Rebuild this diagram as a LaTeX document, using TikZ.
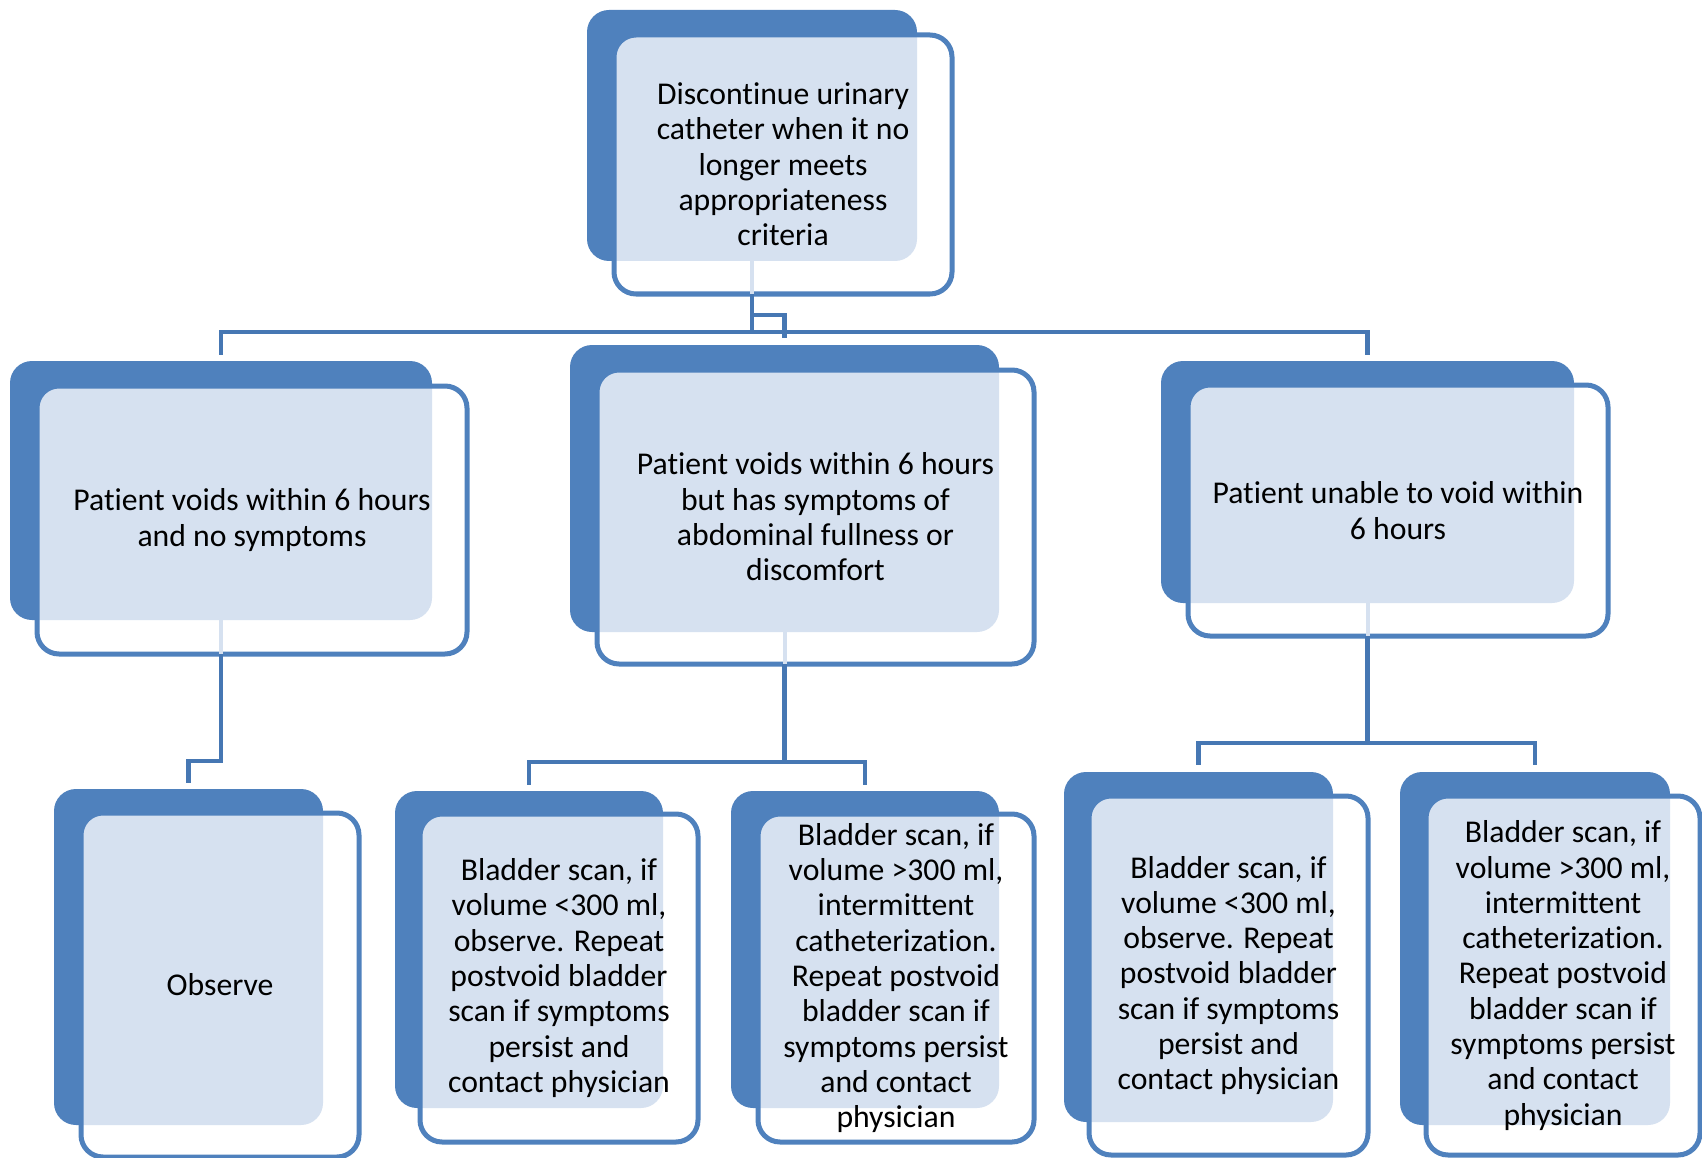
\documentclass[tikz,border=0pt]{standalone}
\usepackage{fontspec}
\setmainfont[Ligatures={NoCommon,NoContextual}, Contextuals=NoAlternate]{Carlito}
\usepackage{tikz}
\usetikzlibrary{fit,calc}
\definecolor{boxblue}{HTML}{4F81BD}
\definecolor{linkblue}{HTML}{4677B3}
\definecolor{tintblue}{HTML}{D6E1F0}

\newcommand{\tierbox}[6]{%
	\node[backbox, fit={(#2) (#3)}] (#1bk) {};
	\node[frontbox, fit={(#4) (#5)}] (#1) {};
	\begin{scope}
		\clip[rounded corners=22pt] (#1.north west) rectangle (#1.south east);
		\fill[tintblue, rounded corners=22pt] (#1bk.north west) rectangle (#1bk.south east);
	\end{scope}
	\draw[frontline] (#1.north west) rectangle (#1.south east);
	\node[boxtext] (#1txt) at (#1.center) {#6};
}

\begin{document}
\begin{tikzpicture}[x=1pt, y=-1pt,
		backbox/.style={fill=boxblue, rounded corners=22pt, inner sep=0pt, outer sep=0pt},
		frontbox/.style={fill=white, rounded corners=22pt, inner sep=0pt, outer sep=0pt},
		frontline/.style={draw=boxblue, line width=5pt, rounded corners=22pt},
		boxtext/.style={font=\fontsize{31.7}{35.3}\selectfont, align=center, inner sep=0pt},
		link/.style={draw=linkblue, line width=4.5pt},
		stem/.style={draw=tintblue, line width=4pt}]
		\useasboundingbox (0,0) rectangle (1702,1158);
		\tierbox{top}{587,10}{917,261}{614,35}{952,294}{Discontinue urinary\\catheter when it no\\longer meets\\appropriateness\\criteria}
		\tierbox{voidok}{10,361}{432,620}{37,386}{467,654}{Patient voids within 6 hours\\and no symptoms}
		\tierbox{voidsym}{570,345}{999,632}{597,370}{1034,664}{Patient voids within 6 hours\\but has symptoms of\\abdominal fullness or\\discomfort}
		\tierbox{novoid}{1161,361}{1574,603}{1188,385}{1608,636}{Patient unable to void within\\6 hours}
		\tierbox{observe}{54,789}{323,1125}{81,813}{359,1157}{Observe}
		\tierbox{scanlow}{395,791}{663,1108}{420,814}{698,1142}{Bladder scan, if\\volume <300 ml,\\observe. Repeat\\postvoid bladder\\scan if symptoms\\persist and\\contact physician}
		\tierbox{scanhigh}{731,791}{999,1108}{758,814}{1034,1142}{Bladder scan, if\\volume >300 ml,\\intermittent\\catheterization.\\Repeat postvoid\\bladder scan if\\symptoms persist\\and contact\\physician}
		\tierbox{retainlow}{1064,772}{1333,1122}{1089,796}{1368,1155}{Bladder scan, if\\volume <300 ml,\\observe. Repeat\\postvoid bladder\\scan if symptoms\\persist and\\contact physician}
		\tierbox{retainhigh}{1400,772}{1670,1125}{1426,796}{1700,1155}{Bladder scan, if\\volume >300 ml,\\intermittent\\catheterization.\\Repeat postvoid\\bladder scan if\\symptoms persist\\and contact\\physician}
		\draw[stem] (topbk.south) -- (topbk.south |- top.south);
		\draw[link] (topbk.south |- top.south) -- (topbk.south |- 0,332);
		\draw[link, shorten >=6pt] (topbk.south |- 0,332) -| (voidokbk.north);
		\draw[link, shorten >=6pt] (topbk.south |- 0,332) -| (novoidbk.north);
		\draw[link, shorten >=7pt] (topbk.south |- 0,315) -| (voidsymbk.north);
		\draw[stem] (voidokbk.south) -- (voidokbk.south |- voidok.south);
		\draw[link, shorten >=6pt] (voidokbk.south |- voidok.south) -- ++(0,107) -| (observebk.north);
		\draw[stem] (voidsymbk.south) -- (voidsymbk.south |- voidsym.south);
		\draw[link, shorten >=6pt] (voidsymbk.south |- voidsym.south) -- ++(0,98) -| (scanlowbk.north);
		\draw[link, shorten >=6pt] (voidsymbk.south |- voidsym.south) -- ++(0,98) -| (scanhighbk.north);
		\draw[stem] (novoidbk.south) -- (novoidbk.south |- novoid.south);
		\draw[link, shorten >=7pt] (novoidbk.south |- novoid.south) -- ++(0,107) -| (retainlowbk.north);
		\draw[link, shorten >=7pt] (novoidbk.south |- novoid.south) -- ++(0,107) -| (retainhighbk.north);
\end{tikzpicture}
\end{document}
